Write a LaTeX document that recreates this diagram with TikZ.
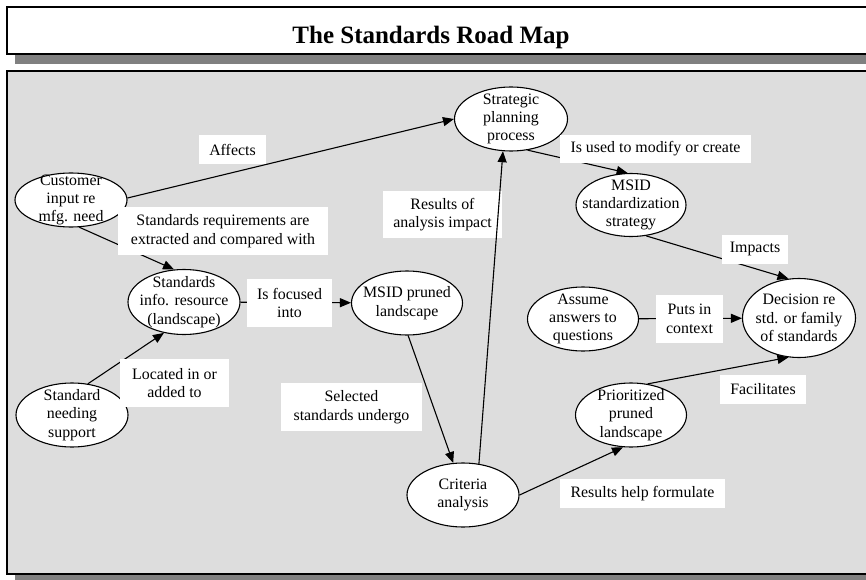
\documentclass[tikz,border=0pt]{standalone}
\usepackage{fontspec}
\setmainfont{Liberation Serif}
\usetikzlibrary{shapes.geometric,arrows.meta}

\definecolor{panelgray}{gray}{0.866}
\definecolor{shadowgray}{gray}{0.5}

\tikzset{
  x=1pt, y=-1pt,
  bodyfont/.style={font=\fontsize{15.9}{18.4}\selectfont},
  stage/.style={ellipse, draw, fill=white, line width=1.1pt, inner sep=0pt},
  stagetext/.style={bodyfont, align=center, inner sep=0pt},
  tag/.style={bodyfont, fill=white, align=center, inner sep=0pt},
  flow/.style={line width=1.1pt, -{Triangle[length=11pt,width=9pt]}},
}

% \stagenode{name}{x}{y}{width}{height}{text}
\newcommand\stagenode[6]{%
  \node[stage, minimum width=#4pt, minimum height=#5pt] (#1) at (#2,#3) {};
  \node[stagetext] (#1-text) at (#1.center) {#6};
}
% \tagnode{name}{x}{y}{width}{height}{text}
\newcommand\tagnode[6]{%
  \node[tag, minimum width=#4pt, minimum height=#5pt] (#1) at (#2,#3) {#6};
}

\begin{document}
\begin{tikzpicture}
\useasboundingbox (0,0) rectangle (866,580);
\clip (0,0) rectangle (866,580);

% title banner
\fill[shadowgray] (15,54) rectangle (880,64);
\draw[line width=1.3pt, fill=white] (7,7) rectangle (880,54);
\node[anchor=base, font=\fontsize{25}{30}\selectfont\bfseries] (title) at (431,44) {The Standards Road Map};

% main panel
\fill[shadowgray] (15,574) rectangle (880,585);
\draw[line width=1.3pt, fill=panelgray] (7,71) rectangle (880,574);

% stages
\stagenode{cust}{71}{200}{112}{54}{Customer\\input re\\mfg. need}
\stagenode{strat}{511}{119}{113}{64}{Strategic\\planning\\process}
\stagenode{msid}{631}{205}{110}{63}{MSID\\standardization\\strategy}
\stagenode{info}{184}{302}{112}{65}{Standards\\info. resource\\(landscape)}
\stagenode{pruned}{407}{303}{111}{64}{MSID pruned\\landscape}
\stagenode{support}{72}{415}{112}{64}{Standard\\needing\\support}
\stagenode{assume}{583}{319}{111}{64}{Assume\\answers to\\questions}
\stagenode{decision}{799}{318}{113}{79}{Decision re\\std. or family\\of standards}
\stagenode{prior}{631}{415}{111}{64}{Prioritized\\pruned\\landscape}
\stagenode{criteria}{463}{495}{112}{64}{Criteria\\analysis}

% connectors
\draw[flow] (cust.2) -- (strat.180);
\draw[flow] (cust.-73) -- (info.107);
\draw[flow] (support.63) -- (info.237);
\draw[flow] (info) -- (pruned);
\draw[flow] (pruned.-88) -- (criteria.107);
\draw[flow] (strat.-62) -- (msid.96);
\draw[flow] (msid.-64) -- (decision.105);
\draw[flow] (assume) -- (decision);
\draw[flow] (prior.62) -- (decision.-105);
\draw[flow] (criteria.0) -- (prior.-104);

% connector labels
\tagnode{affects}{232.5}{149.5}{67}{29}{Affects}
\tagnode{extract}{223}{231}{210}{48}{Standards requirements are\\extracted and compared with}
\tagnode{focused}{289.5}{303}{85}{48}{Is focused\\into}
\tagnode{located}{174.5}{383}{109}{48}{Located in or\\added to}
\tagnode{selected}{351.5}{407}{141}{48}{Selected\\standards undergo}
\tagnode{impact}{442.5}{214.5}{119}{47}{Results of\\analysis impact}
\tagnode{modify}{655.5}{149}{191}{28}{Is used to modify or create}
\tagnode{impacts}{755}{249}{66}{29}{Impacts}
\tagnode{context}{689.5}{319}{67}{48}{Puts in\\context}
\tagnode{facil}{763}{389.5}{86}{29}{Facilitates}
\tagnode{formulate}{642.5}{493.5}{165}{29}{Results help formulate}

% this connector runs over the edge of its label
\draw[flow] (criteria.63) -- (strat.-104);
\end{tikzpicture}
\end{document}
